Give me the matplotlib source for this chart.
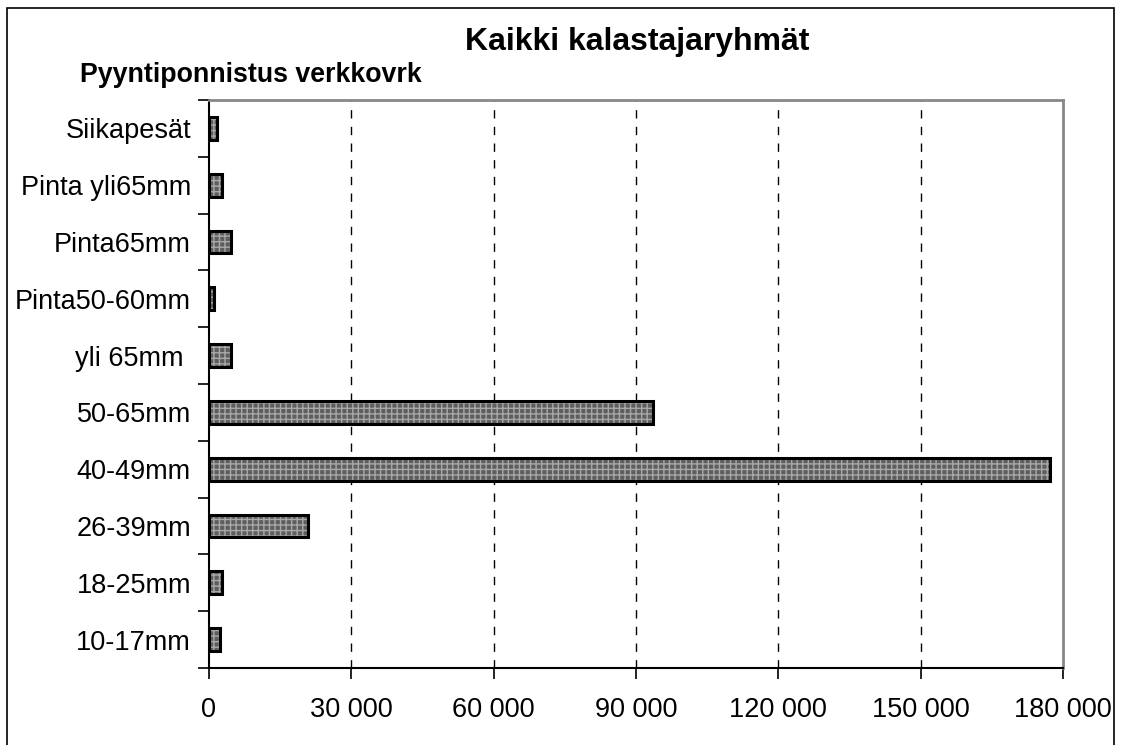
import matplotlib.pyplot as plt
import numpy as np
from matplotlib.patches import Rectangle

# Data (bottom to top)
categories = ['10-17mm', '18-25mm', '26-39mm', '40-49mm', '50-65mm',
              'yli 65mm ', 'Pinta50-60mm', 'Pinta65mm', 'Pinta yli65mm', 'Siikapesät']
effort = [2300, 2750, 20900, 177300, 93500, 4700, 1100, 4600, 2800, 1600]
x_ticks = [0, 30000, 60000, 90000, 120000, 150000, 180000]
x_tick_labels = ['0', '30 000', '60 000', '90 000', '120 000', '150 000', '180 000']

plt.rcParams['font.family'] = ['Liberation Sans', 'DejaVu Sans']

fig = plt.figure(figsize=(11.21, 7.45), dpi=100)
ax = fig.add_axes([0.1864, 0.1034, 0.7618, 0.7624])

y = np.arange(len(categories))
# hatched fill, then black outline on top
ax.barh(y, effort, height=0.4, color='#5e5e5e', edgecolor='#a8a8a8',
        hatch='+++', linewidth=0, zorder=2)
ax.barh(y, effort, height=0.4, fill=False, edgecolor='black',
        linewidth=2.2, zorder=3)

ax.set_xlim(0, 180000)
ax.set_ylim(-0.5, len(categories) - 0.5)
ax.set_xticks(x_ticks)
ax.set_xticklabels(x_tick_labels, fontsize=19.5)
ax.set_yticks(y)
ax.set_yticklabels(categories, fontsize=19.5)
ax.set_yticks(np.arange(-0.5, len(categories)), minor=True)
ax.tick_params(axis='y', which='major', length=0, pad=13)
ax.tick_params(axis='y', which='minor', length=8, width=1.2, direction='out')
ax.tick_params(axis='x', length=8, width=1.2, direction='out', pad=13)

for xv in x_ticks[1:-1]:
    ax.axvline(xv, color='black', linestyle=(0, (6, 6)), linewidth=1, zorder=1)

ax.spines['left'].set_linewidth(1.5)
ax.spines['bottom'].set_linewidth(1.5)
ax.spines['top'].set_color('#888888')
ax.spines['top'].set_linewidth(2)
ax.spines['right'].set_color('#888888')
ax.spines['right'].set_linewidth(2)

fig.text(0.568, 0.944, 'Kaikki kalastajaryhmät', fontsize=23, fontweight='bold',
         ha='center', va='center')
fig.text(0.071, 0.899, 'Pyyntiponnistus verkkovrk', fontsize=19.3, fontweight='bold',
         ha='left', va='center')

# outer border around the figure
fig.patches.append(Rectangle((0.0062, -0.02), 0.9876, 1.0093, transform=fig.transFigure,
                             fill=False, edgecolor='black', linewidth=1.2))

fig.savefig('out.png', dpi=100)
